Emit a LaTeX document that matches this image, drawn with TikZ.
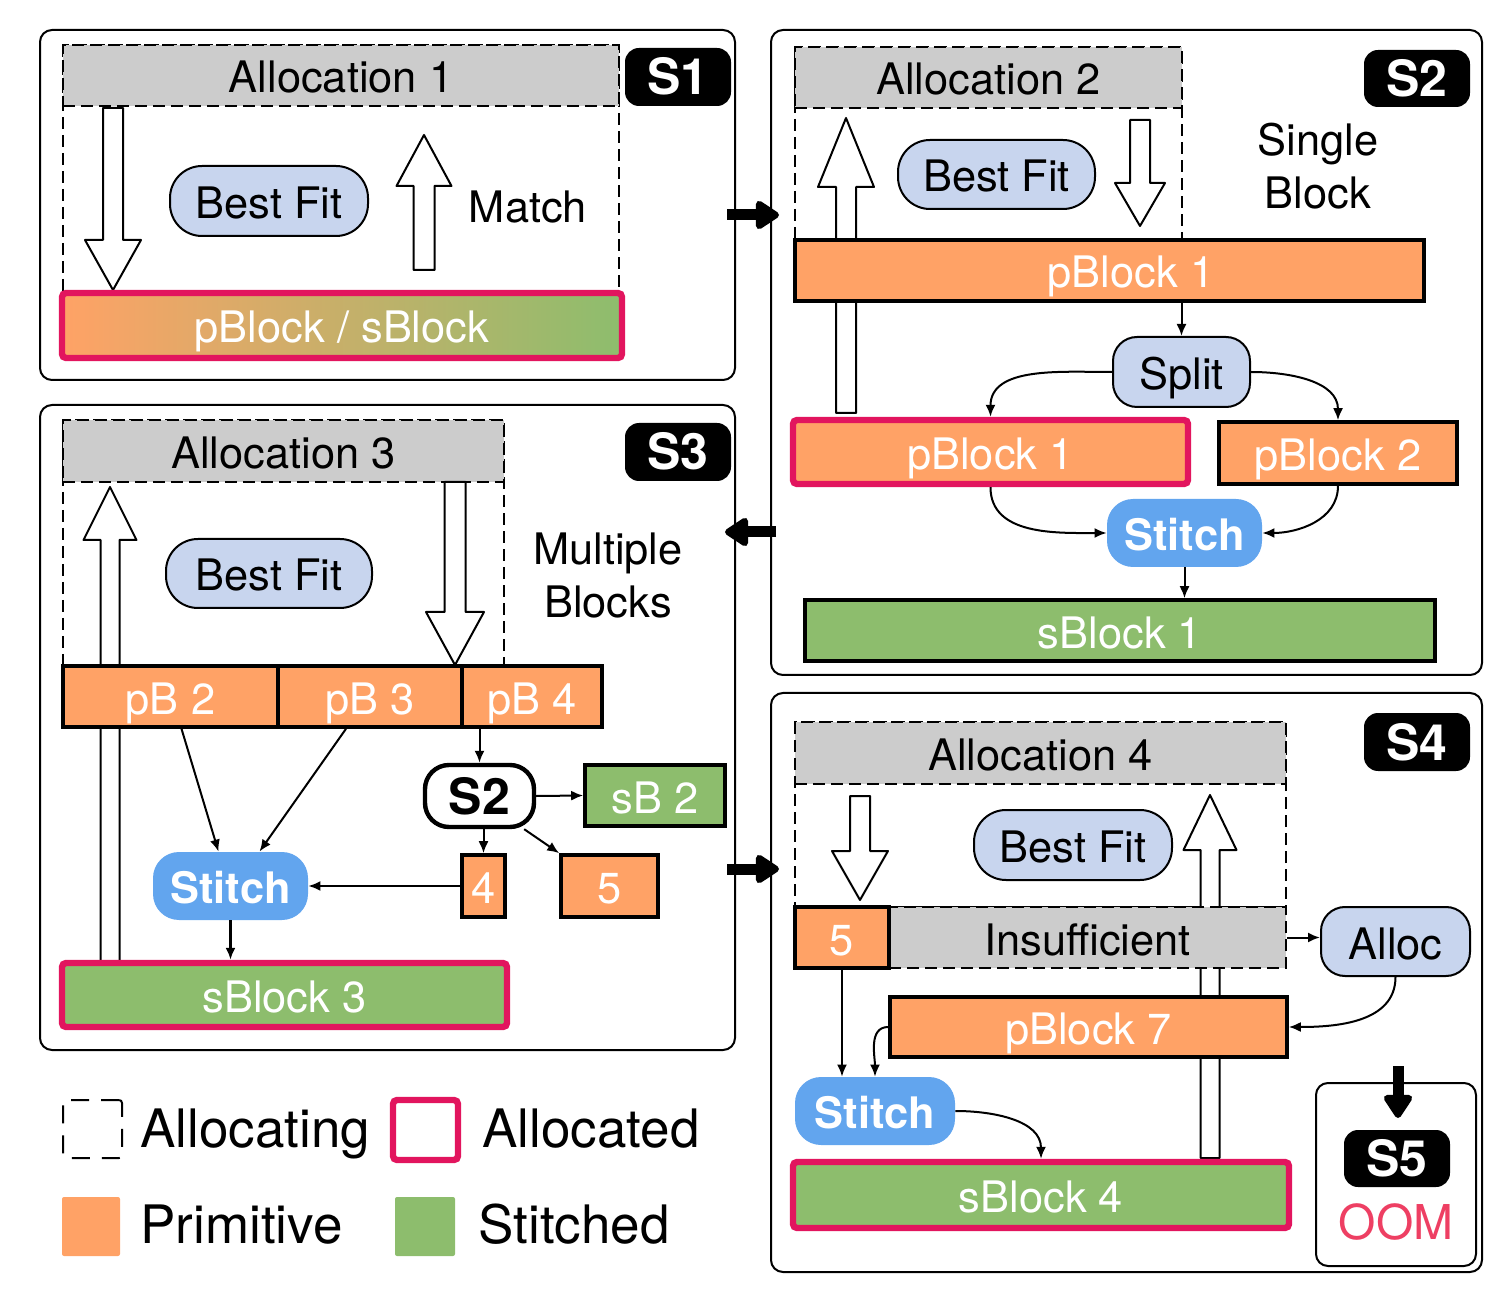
\documentclass[tikz,border=0pt]{standalone}
\usepackage{fontspec}
\setmainfont{TeX Gyre Heros}
\usetikzlibrary{arrows.meta,shapes.misc,calc}
\definecolor{hdrgray}{HTML}{CCCCCC}
\definecolor{bfblue}{HTML}{C8D5EE}
\definecolor{prim}{HTML}{FFA266}
\definecolor{stit}{HTML}{8DBD6D}
\definecolor{stitchblue}{HTML}{62A5EE}
\definecolor{allocpink}{HTML}{E2155E}
\definecolor{oomred}{HTML}{EE3F63}
\newcommand{\mainsz}{\fontsize{21.7}{26.5}\selectfont}
\newcommand{\legsz}{\fontsize{26.5}{32}\selectfont}
\newcommand{\badgesz}{\fontsize{25}{30}\selectfont}
\newcommand{\mkbox}[7]{\node[#1, minimum width={(#5-#3)*0.5pt}, minimum height={(#6-#4)*0.5pt}] (#2) at ({(#3+#5)/2},{(#4+#6)/2}) {#7};}
\newcommand{\harrow}[6]{\draw[hollow] ({#1-#5},#2) -- ({#1+#5},#2) -- ({#1+#5},#3) -- ({#1+#6},#3) -- (#1,#4) -- ({#1-#6},#3) -- ({#1-#5},#3) -- cycle;}
\tikzset{
  txt/.style={text height=17.5pt, text depth=0pt, inner sep=0pt},
  btxt/.style={text height=18pt, text depth=0pt, inner sep=0pt},
  panel/.style={draw=black, line width=1pt, rounded corners=6pt, inner sep=0pt},
  dashreg/.style={draw=black, dash pattern=on 6pt off 3pt, line width=1pt},
  hdr/.style={fill=hdrgray, draw=black, dash pattern=on 6pt off 3pt, line width=1pt, txt},
  badge/.style={fill=black, rounded corners=7pt, text=white, font=\bfseries\badgesz, btxt},
  pill/.style={fill=bfblue, draw=black, line width=1pt, rounded corners=16pt, txt},
  splitbox/.style={fill=bfblue, draw=black, line width=1pt, rounded corners=12pt, txt},
  stitchbox/.style={fill=stitchblue, rounded corners=13pt, text=white, font=\bfseries\mainsz, txt},
  primbox/.style={fill=prim, draw=black, line width=1.8pt, text=white, txt},
  stitbox/.style={fill=stit, draw=black, line width=1.8pt, text=white, txt},
  allocd/.style={draw=allocpink, line width=3.2pt, rounded corners=2pt},
  gradbox/.style={left color=prim, right color=stit, draw=allocpink, line width=3.2pt, rounded corners=2pt, text=white, txt},
  s2box/.style={fill=white, draw=black, line width=2.2pt, rounded corners=12pt, font=\bfseries\badgesz, btxt},
  s5frame/.style={fill=white, draw=black, line width=1pt, rounded corners=6pt, inner sep=0pt},
  hollow/.style={fill=white, draw=black, line width=1pt, line join=round},
  conn/.style={-{Latex[length=6pt,width=5pt]}, line width=1pt},
  thickarr/.style={line width=5.5pt, -{Triangle[length=13pt,width=16pt,round]}},
  plain/.style={inner sep=0pt},
  legtext/.style={inner sep=0pt, font=\legsz, anchor=base west},
}
\begin{document}
\begin{tikzpicture}[x=0.5pt, y=-0.5pt, font=\mainsz]
\useasboundingbox (0,0) rectangle (1506,1294);

% ---------- panels ----------
\mkbox{panel}{p1}{40}{30}{735}{380}{}
\mkbox{panel}{p2}{771}{30}{1482}{675}{}
\mkbox{panel}{p3}{40}{405}{735}{1050}{}
\mkbox{panel}{p4}{771}{693}{1482}{1272}{}

% ---------- S1 ----------
\draw[dashreg] (63,45) rectangle (619,293);
\mkbox{hdr}{a1}{63}{45}{619}{106}{Allocation 1}
\mkbox{badge}{s1}{625}{48}{731}{106}{S1}
\harrow{113}{108}{240}{290}{10}{28}
\harrow{424}{270}{186}{135}{10.5}{27.5}
\mkbox{pill}{bf1}{170}{166}{368}{236}{Best Fit}
\node[plain] (m1) at (528,207) {Match};
\mkbox{gradbox}{pb1}{62}{293}{622}{358}{pBlock / sBlock}

% ---------- S2 ----------
\draw[dashreg] (795,47) rectangle (1182,240);
\mkbox{hdr}{a2}{795}{47}{1182}{108}{Allocation 2}
\mkbox{badge}{s2}{1364}{50}{1470}{107}{S2}
\harrow{846}{413}{187}{118}{10}{28}
\harrow{1140}{120}{183}{226}{10}{25}
\mkbox{pill}{bf2}{898}{140}{1095}{209}{Best Fit}
\node[plain, align=center] (single) at (1318,166) {Single\\Block};
\mkbox{primbox}{pb21}{795}{240}{1424}{301}{\hspace*{21.5pt}pBlock 1}
\mkbox{splitbox}{split}{1113}{337}{1250}{407}{Split}
\mkbox{primbox,allocd}{pb21b}{793}{420}{1188}{484}{pBlock 1}
\mkbox{primbox}{pb22}{1219}{422}{1457}{484}{pBlock 2}
\mkbox{stitchbox}{st2}{1107}{499}{1262}{567}{Stitch}
\mkbox{stitbox}{sb21}{805}{600}{1435}{661}{sBlock 1}
\draw[conn] (split.north |- pb21.south) -- (split.north);
\draw[conn] (split.west) to[out=180,in=90] (pb21b.north);
\draw[conn] (split.east) to[out=0,in=90] (pb22.north);
\draw[conn] (pb21b.south) to[out=-90,in=180] (st2.west);
\draw[conn] (pb22.south) to[out=-90,in=0] (st2.east);
\draw[conn] (st2.south) -- (st2.south |- sb21.north);

% ---------- S3 ----------
\draw[dashreg] (63,420) rectangle (504,666);
\mkbox{hdr}{a3}{63}{420}{504}{482}{Allocation 3}
\mkbox{badge}{s3}{625}{423}{731}{481}{S3}
\harrow{110}{962}{540}{487}{9.5}{26.5}
\harrow{455}{482}{612}{665}{10.5}{29}
\mkbox{pill}{bf3}{166}{539}{372}{608}{Best Fit}
\node[plain, align=center] (multi) at (608,576) {Multiple\\Blocks};
\mkbox{primbox}{pb2}{63}{666}{278}{727}{pB 2}
\mkbox{primbox}{pb3}{278}{666}{462}{727}{pB 3}
\mkbox{primbox}{pb4}{462}{666}{602}{727}{pB 4}
\mkbox{s2box}{s2n}{425}{765}{534}{827}{S2}
\mkbox{stitbox}{sb2}{585}{765}{725}{826}{sB 2}
\mkbox{primbox}{b4}{462}{855}{505}{917}{4}
\mkbox{primbox}{b5}{561}{855}{658}{917}{5}
\mkbox{stitchbox}{st3}{153}{852}{308}{920}{Stitch}
\mkbox{stitbox,allocd}{sb3}{62}{963}{507}{1027}{sBlock 3}
\draw[conn] ($(pb2.south)+(11,0)$) -- ($(st3.north)+(-12,0)$);
\draw[conn] ($(pb3.south)+(-24,0)$) -- ($(st3.north)+(29,0)$);
\draw[conn] (s2n.north |- pb4.south) -- (s2n.north);
\draw[conn] (s2n.east) -- (sb2.west);
\draw[conn] (b4.north |- s2n.south) -- (b4.north);
\draw[conn] ($(s2n.south east)+(-12,0)$) -- (b5.north west);
\draw[conn] (b4.west) -- (st3.east);
\draw[conn, line width=1.4pt] (st3.south) -- (st3.south |- sb3.north);

% ---------- S4 ----------
\draw[dashreg] (795,722) rectangle (1286,907);
\mkbox{hdr}{a4}{795}{722}{1286}{784}{Allocation 4}
\mkbox{badge}{s4}{1364}{713}{1470}{771}{S4}
\harrow{860}{796}{851}{900}{10}{28}
\harrow{1210}{1158}{850}{795}{9.5}{26.5}
\mkbox{pill}{bf4}{974}{810}{1172}{880}{Best Fit}
\mkbox{hdr}{ins}{889}{907}{1286}{968}{Insufficient}
\mkbox{primbox}{b5b}{795}{907}{889}{968}{5}
\mkbox{splitbox}{alloc}{1321}{907}{1470}{976}{Alloc}
\mkbox{primbox}{pb7}{890}{997}{1287}{1057}{pBlock 7}
\mkbox{stitchbox}{st4}{795}{1077}{955}{1145}{Stitch}
\mkbox{stitbox,allocd}{sb4}{793}{1162}{1289}{1228}{sBlock 4}
\mkbox{s5frame}{s5f}{1316}{1083}{1476}{1266}{}
\mkbox{badge}{s5}{1344}{1130}{1450}{1187}{S5}
\node[plain, text=oomred, font=\fontsize{24}{28}\selectfont] (oom) at (1396,1222) {OOM};
\draw[conn] (ins.east) -- (ins.east -| alloc.west);
\draw[conn] (alloc.south) to[out=-90,in=0] (pb7.east);
\draw[conn] (b5b.south) -- (b5b.south |- st4.north);
\draw[conn] (pb7.west) to[out=180,in=90] (st4.north);
\draw[conn] (st4.east) to[out=0,in=90] (sb4.north);

% ---------- thick arrows between panels ----------
\coordinate (t1a) at (727,215);
\coordinate (t1b) at (779,215);
\coordinate (t2a) at (776,532);
\coordinate (t2b) at (725,532);
\coordinate (t3a) at (727,869);
\coordinate (t3b) at (779,869);
\coordinate (t4a) at (1398,1066);
\coordinate (t4b) at (1398,1118);
\draw[thickarr] (t1a) -- (t1b);
\draw[thickarr] (t2a) -- (t2b);
\draw[thickarr] (t3a) -- (t3b);
\draw[thickarr] (t4a) -- (t4b);

% ---------- legend ----------
\mkbox{draw=black, line width=1pt, dash pattern=on 9pt off 6pt, rounded corners=1.5pt, inner sep=0pt}{l1}{63}{1100}{122}{1158}{}
\node[legtext] (lt1) at (140,1147) {Allocating};
\mkbox{draw=allocpink, line width=3.2pt, rounded corners=2pt, inner sep=0pt}{l2}{393}{1100}{458}{1160}{}
\node[legtext] (lt2) at (482,1147) {Allocated};
\mkbox{fill=prim, rounded corners=1pt, inner sep=0pt}{l3}{62}{1197}{120}{1256}{}
\node[legtext] (lt3) at (140,1243) {Primitive};
\mkbox{fill=stit, rounded corners=1pt, inner sep=0pt}{l4}{395}{1197}{455}{1256}{}
\node[legtext] (lt4) at (478,1243) {Stitched};
\end{tikzpicture}
\end{document}
